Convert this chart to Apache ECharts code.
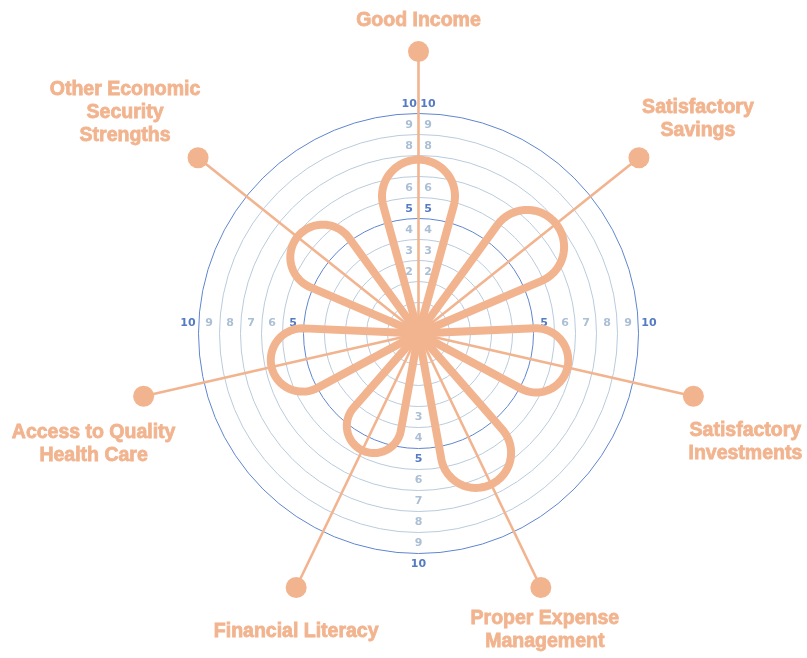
<!DOCTYPE html>
<html>
<head>
<meta charset="utf-8">
<title>Economic Security Strengths</title>
<script src="https://cdn.jsdelivr.net/npm/echarts@6/dist/echarts.min.js"></script>
<style>
    html, body { margin: 0; padding: 0; background: #fff; }
    #main { width: 807px; height: 658px; }
</style>
</head>
<body>
<div id="main"></div>
<script>
    // chart data
    var categories = ['Good Income', 'Satisfactory Savings', 'Satisfactory Investments',
        'Proper Expense Management', 'Financial Literacy', 'Access to Quality Health Care',
        'Other Economic Security Strengths'];
    var labelText = ['Good Income', 'Satisfactory\nSavings', 'Satisfactory\nInvestments',
        'Proper Expense\nManagement', 'Financial Literacy', 'Access to Quality\nHealth Care',
        'Other Economic\nSecurity\nStrengths'];
    var scores = [7.8, 7.9, 6.8, 7.5, 5.7, 6.7, 6.9];
    var topTicks = [2, 3, 4, 5, 6, 8, 9, 10];
    var sideTicks = [5, 6, 7, 8, 9, 10];
    var bottomTicks = [3, 4, 5, 6, 7, 8, 9, 10];

    // look
    var PEACH = '#f2b48f';
    var RING_DARK = '#5f86cf';
    var RING_LIGHT = '#b9cbdc';
    var TICK_DARK = '#547bc4';
    var TICK_LIGHT = '#abbfd5';
    var SPOKE = 12.95;   // where the marker dots sit, in axis units
    var labelOffset = [[0, -31], [59, -39], [52, 46], [4, 43], [0, 44], [-50, 48], [-73, -45]];
    var CENTER = [418.5, 333.5];
    var RADIUS = [10, 220];

    var hidden = {
        axisLine: {show: false}, axisTick: {show: false},
        axisLabel: {show: false}, splitLine: {show: false}
    };

    function tickSeries(ticks, angle, dx, dy) {
        return {
            type: 'custom', coordinateSystem: 'polar', polarIndex: 1, z: 2, silent: true,
            data: ticks.map(function (v) { return [v, angle]; }),
            renderItem: function (params, api) {
                var v = api.value(0);
                var p = api.coord([v, api.value(1)]);
                return {
                    type: 'text', x: p[0] + dx, y: p[1] + dy,
                    style: {
                        text: String(v), fill: v % 5 === 0 ? TICK_DARK : TICK_LIGHT,
                        font: 'bold 11px "DejaVu Sans"', align: 'center', verticalAlign: 'middle'
                    }
                };
            }
        };
    }

    var myChart = echarts.init(document.getElementById('main'));
    myChart.setOption({
        animation: false,
        polar: [
            {center: CENTER, radius: RADIUS},
            {center: CENTER, radius: RADIUS}
        ],
        angleAxis: [
            Object.assign({polarIndex: 0, type: 'category', data: categories, boundaryGap: false,
                startAngle: 90, clockwise: true}, hidden),
            Object.assign({polarIndex: 1, type: 'value', min: 0, max: 360,
                startAngle: 0, clockwise: false}, hidden)
        ],
        radiusAxis: [
            Object.assign({polarIndex: 0, type: 'value', min: 0, max: 10, interval: 1}, hidden),
            {
                polarIndex: 1, type: 'value', min: 0, max: 10, interval: 1,
                axisLine: {show: false}, axisTick: {show: false}, axisLabel: {show: false},
                splitLine: {
                    show: true,
                    lineStyle: {width: 1, color: [RING_DARK, RING_LIGHT, RING_LIGHT, RING_LIGHT, RING_LIGHT]}
                }
            }
        ],
        series: [
            tickSeries(topTicks, 90, -9.3, -9.5),
            tickSeries(topTicks, 90, 9.5, -9.5),
            tickSeries(sideTicks, 180, -10.5, -10.5),
            tickSeries(sideTicks, 0, 10.5, -10.5),
            tickSeries(bottomTicks, 270, 0, 10.5),
            {
                // spokes, end dots and category names
                type: 'custom', coordinateSystem: 'polar', polarIndex: 0, z: 3, silent: true,
                data: categories.map(function (c) { return [SPOKE, c]; }),
                renderItem: function (params, api) {
                    var cs = params.coordSys;
                    var i = params.dataIndex;
                    var end = api.coord([api.value(0), api.value(1)]);
                    return {
                        type: 'group',
                        children: [
                            {type: 'line', shape: {x1: cs.cx, y1: cs.cy, x2: end[0], y2: end[1]},
                                style: {stroke: PEACH, lineWidth: 2.6}},
                            {type: 'circle', shape: {cx: end[0], cy: end[1], r: 10.5},
                                style: {fill: PEACH}},
                            {type: 'text', x: end[0] + labelOffset[i][0], y: end[1] + labelOffset[i][1],
                                style: {
                                    text: labelText[i], fill: PEACH, font: 'bold 19.5px "Liberation Sans"',
                                    align: 'center', verticalAlign: 'middle', lineHeight: 23,
                                    stroke: PEACH, lineWidth: 0.8
                                }}
                        ]
                    };
                }
            },
            {
                // teardrop petals, tip at the score
                type: 'custom', coordinateSystem: 'polar', polarIndex: 0, z: 4, silent: true,
                data: categories.map(function (c, i) { return [scores[i], c]; }),
                renderItem: function (params, api) {
                    var cs = params.coordSys;
                    var tip = api.coord([api.value(0), api.value(1)]);
                    var ux = tip[0] - cs.cx, uy = tip[1] - cs.cy;
                    var L = Math.sqrt(ux * ux + uy * uy);
                    ux /= L; uy /= L;
                    var nx = -uy, ny = ux;
                    var R = 0.21 * L, D = L - R;
                    var a = Math.asin(R / D);
                    var t = Math.sqrt(D * D - R * R);
                    var b = Math.atan2(t * Math.sin(a), t * Math.cos(a) - D);
                    var pts = [[cs.cx, cs.cy]];
                    var n = 48;
                    for (var k = 0; k <= n; k++) {
                        var ang = b - (2 * b) * k / n;
                        var x = D + R * Math.cos(ang), y = R * Math.sin(ang);
                        pts.push([cs.cx + x * ux + y * nx, cs.cy + x * uy + y * ny]);
                    }
                    return {
                        type: 'polygon', shape: {points: pts},
                        style: {fill: 'none', stroke: PEACH, lineWidth: 8, lineJoin: 'round'}
                    };
                }
            }
        ]
    });
</script>
</body>
</html>
